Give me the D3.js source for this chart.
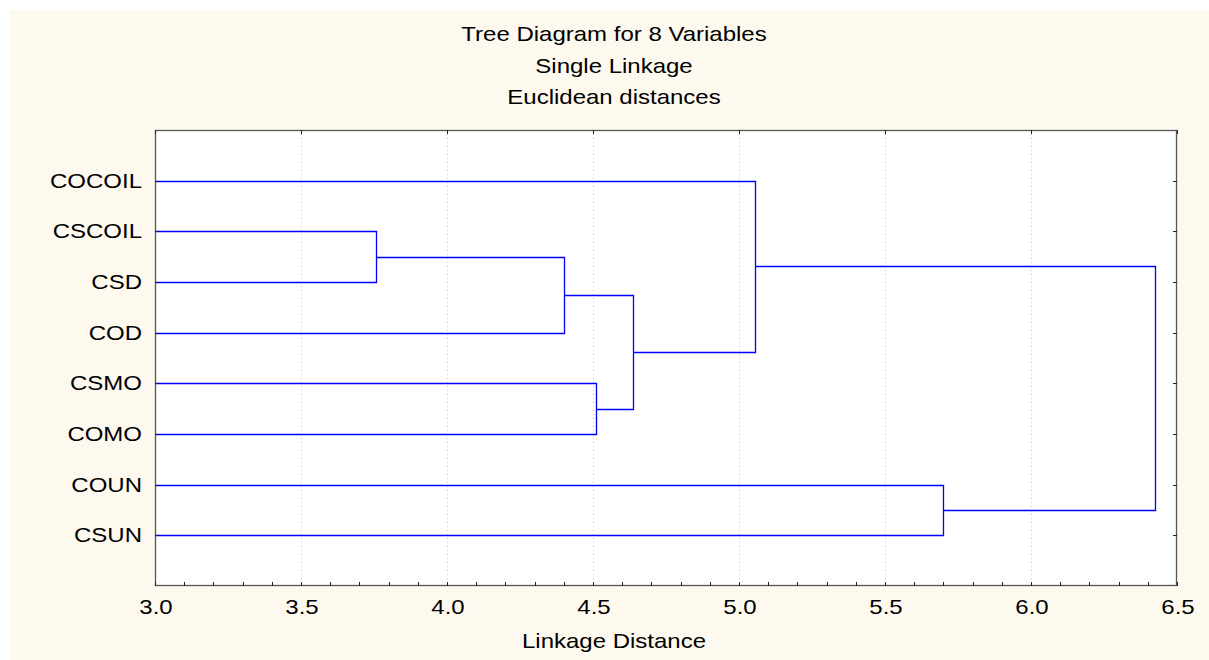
<!DOCTYPE html>
<html><head><meta charset="utf-8">
<script src="https://cdn.jsdelivr.net/npm/d3@7"></script>
<style>html,body{margin:0;padding:0;background:#fff;}svg{display:block;}</style>
</head><body>
<svg id="c" width="1209" height="660"></svg>
<script>
const titleLines = ["Tree Diagram for 8 Variables", "Single Linkage", "Euclidean distances"];
const xLabel = "Linkage Distance";
const leaves = ["COCOIL","CSCOIL","CSD","COD","CSMO","COMO","COUN","CSUN"];
// linkage: merge k creates cluster id 8+k from childA and childB at height
const childA = [1, 8, 4, 9, 0, 6, 12];
const childB = [2, 3, 5, 10, 11, 7, 13];
const heights = [3.757, 4.40, 4.51, 4.636, 5.055, 5.70, 6.426];
const xTicks = [3.0, 3.5, 4.0, 4.5, 5.0, 5.5, 6.0, 6.5];

const svg = d3.select("#c");
const L = 155, R = 1177, T = 130, B = 586;
const FS = 20, SX = 1.2;
svg.append("rect").attr("x",10).attr("y",10).attr("width",1199).attr("height",650).attr("fill","#fdf9ef");
svg.append("rect").attr("x",L).attr("y",T).attr("width",R-L).attr("height",B-T).attr("fill","#fff");

const x = d3.scaleLinear().domain([3.0, 6.5]).range([L, R]);
const y = d3.scalePoint().domain(leaves).range([T, B]).padding(1);

// grid
svg.append("g").selectAll("line").data(xTicks.slice(1,-1)).join("line")
  .attr("x1",d=>Math.round(x(d))+0.5).attr("x2",d=>Math.round(x(d))+0.5)
  .attr("y1",T).attr("y2",B).attr("stroke","#c4c4c4").attr("stroke-dasharray","1,3");

// dendrogram
const nodeX = leaves.map(()=>x.domain()[0]);
const nodeY = leaves.map(d=>y(d));
const paths = [];
heights.forEach((h,i)=>{
  const a = childA[i], b = childB[i];
  paths.push({xa:nodeX[a], ya:nodeY[a], xb:nodeX[b], yb:nodeY[b], h:h});
  nodeX.push(h);
  nodeY.push((nodeY[a]+nodeY[b])/2);
});
const sn = v => Math.round(v)+0.5;
svg.append("g").selectAll("path").data(paths).join("path")
  .attr("d", p => `M${sn(x(p.xa))},${sn(p.ya)}H${sn(x(p.h))}V${sn(p.yb)}H${sn(x(p.xb))}`)
  .attr("fill","none").attr("stroke","#0000ff").attr("stroke-width",1.3);
// frame
svg.append("rect").attr("x",L+0.5).attr("y",T+0.5).attr("width",R-L-1).attr("height",B-T-1)
  .attr("fill","none").attr("stroke","#555").attr("stroke-width",1.3);

// bottom axis ticks (minor every 0.1, inward)
const minor = d3.range(0, 36).map(i => 3.0 + i*0.1);
svg.append("g").selectAll("line").data(minor).join("line")
  .attr("x1",d=>sn(x(d))).attr("x2",d=>sn(x(d))).attr("y1",B).attr("y2",B-4)
  .attr("stroke","#222").attr("stroke-width",1);
// top ticks
svg.append("g").selectAll("line").data(xTicks).join("line")
  .attr("x1",d=>sn(x(d))).attr("x2",d=>sn(x(d))).attr("y1",T).attr("y2",T+4)
  .attr("stroke","#222").attr("stroke-width",1);
// right and left ticks
svg.append("g").selectAll("line").data(leaves).join("line")
  .attr("x1",R).attr("x2",R-4).attr("y1",d=>sn(y(d))).attr("y2",d=>sn(y(d)))
  .attr("stroke","#222").attr("stroke-width",1);
svg.append("g").selectAll("line").data(leaves).join("line")
  .attr("x1",L).attr("x2",L+3).attr("y1",d=>sn(y(d))).attr("y2",d=>sn(y(d)))
  .attr("stroke","#222").attr("stroke-width",1);

const txt = (g, s, tx, ty, anchor) => g.append("text")
  .attr("transform",`translate(${tx},${ty}) scale(${SX},1)`)
  .attr("text-anchor",anchor).attr("font-family","'Liberation Sans', Arial, sans-serif")
  .attr("font-size",FS).attr("fill","#000").text(s);

const g = svg.append("g");
xTicks.forEach(t => txt(g, t.toFixed(1), x(t)+1, 614, "middle"));
leaves.forEach(l => txt(g, l, 142, y(l)+7, "end"));
titleLines.forEach((s,i) => txt(g, s, 614, 41 + i*31.5, "middle"));
txt(g, xLabel, 614, 648, "middle");
</script>
</body></html>
